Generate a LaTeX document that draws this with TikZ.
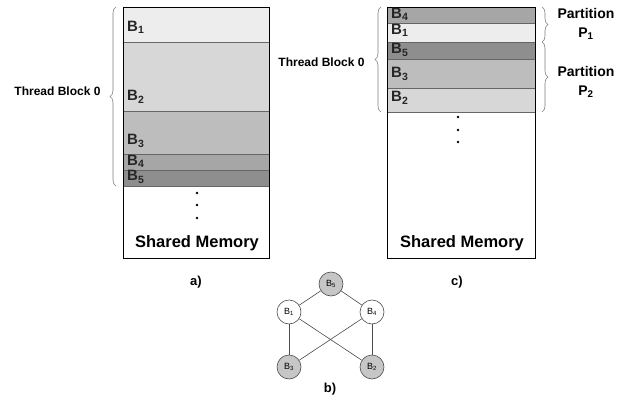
\documentclass[tikz,border=0pt]{standalone}
\usepackage{fontspec}
\setmainfont{Liberation Sans}
\usetikzlibrary{decorations.pathreplacing}

\definecolor{shA}{HTML}{EDEDED}
\definecolor{shB}{HTML}{D7D7D7}
\definecolor{shC}{HTML}{BDBDBD}
\definecolor{shD}{HTML}{A6A6A6}
\definecolor{shE}{HTML}{8E8E8E}
\definecolor{nodegray}{HTML}{C6C6C6}

\newcommand{\blk}[1]{B\textsubscript{#1}}

\begin{document}
\begin{tikzpicture}[x=1pt, y=-1pt,
  band/.style={draw=black!60, line width=0.6pt},
  blab/.style={anchor=west, inner sep=0pt, text=black!85, font=\bfseries\fontsize{15}{15}\selectfont},
  cbrace/.style={decorate, decoration={brace, amplitude=6pt}, draw=black!50, line width=0.6pt},
  gnode/.style={circle, draw=black!70, line width=0.6pt, minimum size=24pt, inner sep=0pt, font=\fontsize{9}{9}\selectfont},
  caption/.style={font=\bfseries\fontsize{13}{13}\selectfont}]

\useasboundingbox (0,0) rectangle (627,407);

% a) blocks in order
\filldraw[band, fill=shA] (123,7) rectangle (269,42);
\filldraw[band, fill=shB] (123,42) rectangle (269,111);
\filldraw[band, fill=shC] (123,111) rectangle (269,154);
\filldraw[band, fill=shD] (123,154) rectangle (269,170);
\filldraw[band, fill=shE] (123,170) rectangle (269,186);
\draw[line width=0.7pt] (123,7) rectangle (269,258);

\node[blab] (a1) at (127,27) {\blk{1}};
\node[blab] (a2) at (127,97) {\blk{2}};
\node[blab] (a3) at (127,141) {\blk{3}};
\node[blab] (a4) at (127,161) {\blk{4}};
\node[blab] (a5) at (127,177) {\blk{5}};

\fill (197,193) circle (1.3) (197,205) circle (1.3) (197,218) circle (1.3);
\node[font=\bfseries\fontsize{16.5}{16.5}\selectfont] (smA) at (197,243) {Shared Memory};

\draw[cbrace] (116,186) -- (116,7);
\node[anchor=east, font=\bfseries\fontsize{12}{12}\selectfont] (tbA) at (104,91) {Thread Block 0};

\node[caption] (capa) at (196,282) {a)};

% c) blocks partitioned
\filldraw[band, fill=shD] (387,7) rectangle (535,23);
\filldraw[band, fill=shA] (387,23) rectangle (535,42);
\filldraw[band, fill=shE] (387,42) rectangle (535,59);
\filldraw[band, fill=shC] (387,59) rectangle (535,88);
\filldraw[band, fill=shB] (387,88) rectangle (535,112);
\draw[line width=0.7pt] (387,7) rectangle (535,258);

\node[blab] (c4) at (391,14) {\blk{4}};
\node[blab] (c1) at (391,30) {\blk{1}};
\node[blab] (c5) at (391,50) {\blk{5}};
\node[blab] (c3) at (391,74) {\blk{3}};
\node[blab] (c2) at (391,98) {\blk{2}};

\fill (458,117) circle (1.3) (458,130) circle (1.3) (458,142) circle (1.3);
\node[font=\bfseries\fontsize{16.5}{16.5}\selectfont] (smC) at (462,243) {Shared Memory};

\draw[cbrace] (381,112) -- (381,7);
\node[anchor=east, font=\bfseries\fontsize{12}{12}\selectfont] (tbC) at (368,62) {Thread Block 0};

\draw[cbrace] (542,7) -- (542,42);
\draw[cbrace] (542,42) -- (542,112);
\node[align=center, font=\bfseries\fontsize{14}{19}\selectfont] (p1) at (586,24) {Partition\\P\textsubscript{1}};
\node[align=center, font=\bfseries\fontsize{14}{19}\selectfont] (p2) at (586,82) {Partition\\P\textsubscript{2}};

\node[caption] (capc) at (457,282) {c)};

% b) conflict graph
\node[gnode, fill=nodegray] (g5) at (331,284) {\blk{5}};
\node[gnode, fill=white] (g1) at (289,312) {\blk{1}};
\node[gnode, fill=white] (g4) at (372,312) {\blk{4}};
\node[gnode, fill=nodegray] (g3) at (289,367) {\blk{3}};
\node[gnode, fill=nodegray] (g2) at (372,367) {\blk{2}};

\draw[black!70, line width=0.6pt] (g5) -- (g1);
\draw[black!70, line width=0.6pt] (g5) -- (g4);
\draw[black!70, line width=0.6pt] (g1) -- (g3);
\draw[black!70, line width=0.6pt] (g4) -- (g2);
\draw[black!70, line width=0.6pt] (g1) -- (g2);
\draw[black!70, line width=0.6pt] (g4) -- (g3);

\node[caption] (capb) at (330,389) {b)};

\end{tikzpicture}
\end{document}
